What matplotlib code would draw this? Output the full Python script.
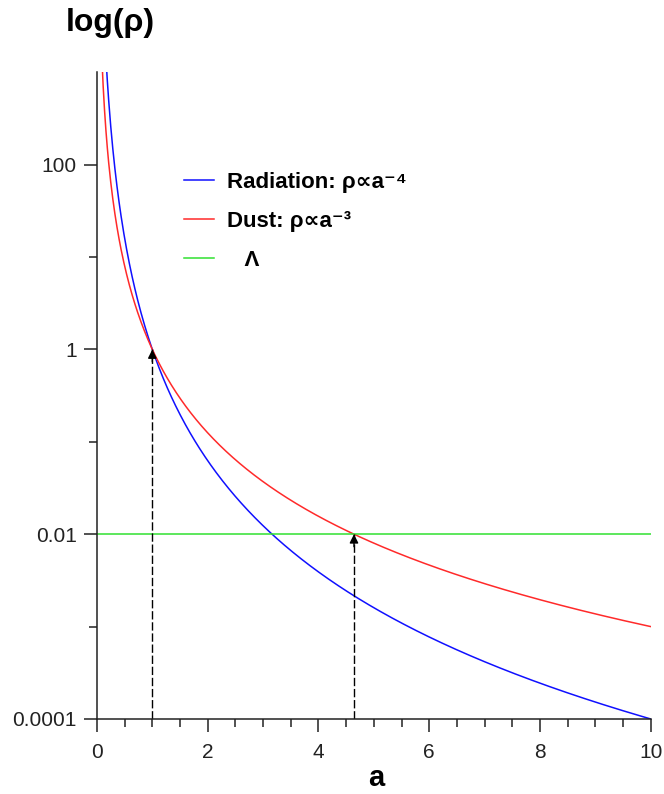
import numpy as np
import matplotlib
matplotlib.use("Agg")
from matplotlib import pyplot as plt
from matplotlib.ticker import FixedLocator, FixedFormatter, MultipleLocator, NullFormatter

plt.rcParams['font.family'] = ['Liberation Sans', 'DejaVu Sans']

# scale factor range and the power laws named in the legend
a = np.linspace(0.05, 10, 800)
rad_exp = -4          # radiation: rho ~ a^-4
dust_exp = -3         # dust: rho ~ a^-3
lam = 0.01            # cosmological constant level

# equality points marked with arrows
eq_a = [1.0, 4.6416]
eq_rho = [1.0, 0.01]

ytick_vals = [1e-4, 1e-2, 1, 100]
ytick_labels = ["0.0001", "0.01", "1", "100"]
yminor_vals = [1e-3, 1e-1, 10]
xtick_vals = [0, 2, 4, 6, 8, 10]

fig = plt.figure(figsize=(6.64, 7.94), dpi=100)
ax = fig.add_axes([0.146, 0.0945, 0.834, 0.8145])

ax.plot(a, a ** rad_exp, color='#1010ff', lw=1.1, label="Radiation: ρ∝a⁻⁴")
ax.plot(a, a ** dust_exp, color='#ff2a2a', lw=1.1, label="Dust: ρ∝a⁻³")
ax.axhline(lam, color='#30e030', lw=1.1, label="   Λ")

for xa, ya in zip(eq_a, eq_rho):
    ax.plot([xa, xa], [1e-4, ya], color='k', lw=1, dashes=(6, 2))
    ax.annotate('', xy=(xa, ya), xytext=(0, -9), textcoords='offset points',
                arrowprops=dict(arrowstyle='-|>', color='k', lw=1,
                                mutation_scale=13, shrinkA=0, shrinkB=0))

ax.set_yscale('log')
ax.set_xlim(0, 10)
ax.set_ylim(1e-4, 1000)

ax.yaxis.set_major_locator(FixedLocator(ytick_vals))
ax.yaxis.set_major_formatter(FixedFormatter(ytick_labels))
ax.yaxis.set_minor_locator(FixedLocator(yminor_vals))
ax.yaxis.set_minor_formatter(NullFormatter())
ax.xaxis.set_major_locator(FixedLocator(xtick_vals))
ax.xaxis.set_minor_locator(MultipleLocator(0.5))

for s in ['top', 'right']:
    ax.spines[s].set_visible(False)
for s in ['left', 'bottom']:
    ax.spines[s].set_color('#222222')
    ax.spines[s].set_linewidth(1.1)

ax.tick_params(which='major', direction='out', length=9.5, width=1.1,
               color='#222222', labelsize=15, labelcolor='#222222')
ax.tick_params(which='minor', direction='out', length=6, width=1.1,
               color='#222222')
ax.tick_params(axis='y', which='major', pad=5)
ax.tick_params(axis='x', which='major', pad=8)

fig.text(376 / 664, 1 - 778 / 794, "a", fontsize=21, fontweight='bold',
         ha='center', va='center')
fig.text(110 / 664, 1 - 23 / 794, "log(ρ)", fontsize=23, fontweight='bold',
         ha='center', va='center')

leg = ax.legend(loc='upper left', bbox_to_anchor=(0.247, 0.809),
                bbox_transform=fig.transFigure, frameon=False,
                prop={'weight': 'bold', 'size': 16},
                handlelength=1.35, handletextpad=0.6, labelspacing=0.82)

fig.savefig("out.png", dpi=100)
